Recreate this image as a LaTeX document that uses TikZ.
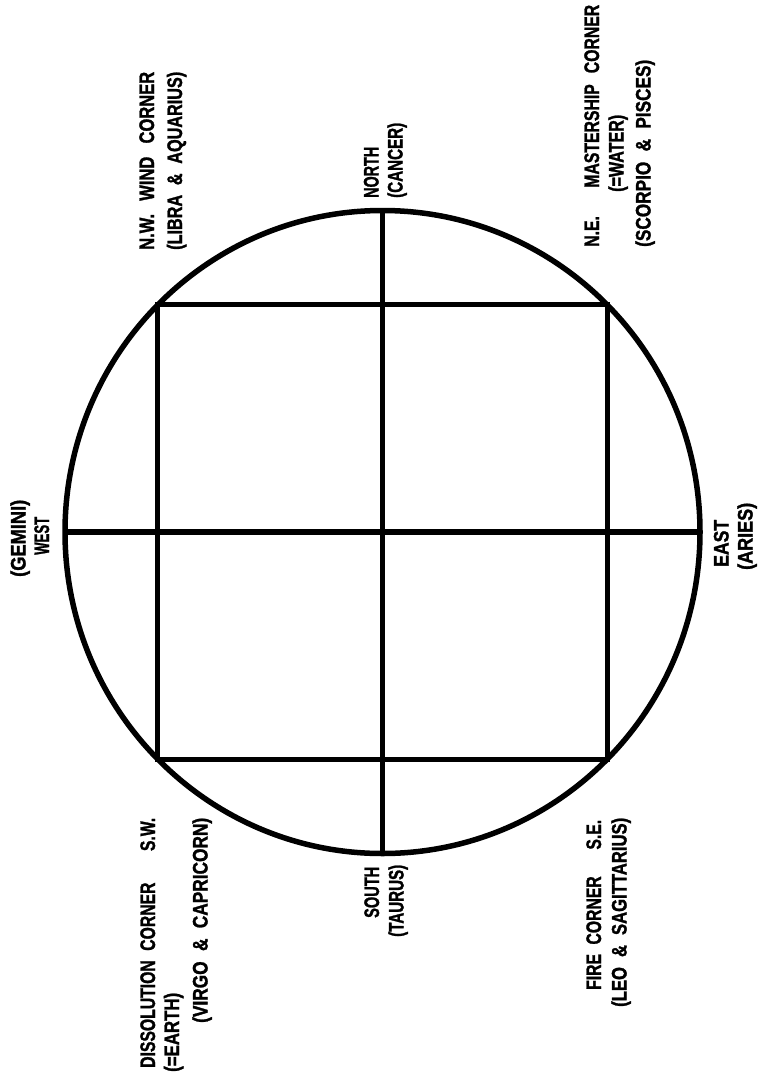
\documentclass[tikz,border=0pt]{standalone}
\usepackage{fontspec}
\usepackage{graphicx}
\newfontfamily\lblfamily{Liberation Sans}[BoldFeatures={FakeBold=1.6}]
\newcommand{\lbl}[2]{\resizebox{#1pt}{\height}{#2}}
\newcommand{\gap}[1]{\hspace{#1em}}
\begin{document}
\begin{tikzpicture}[x=1pt,y=-1pt,
  lab/.style={rotate=90, anchor=west, inner sep=0pt, text height=15pt, text depth=0pt,
    font=\lblfamily\bfseries\fontsize{21}{24}\selectfont},
  rule/.style={line width=5.5pt}]
\useasboundingbox (0,0) rectangle (759,1081);
\coordinate (C) at (382.5,532);
\coordinate (NW) at (157.5,304.7);
\coordinate (NE) at (607.5,304.7);
\coordinate (SE) at (607.5,759.3);
\coordinate (SW) at (157.5,759.3);
\coordinate (T) at (382.5,210.5);
\coordinate (B) at (382.5,853.5);
\coordinate (L) at (65,532);
\coordinate (R) at (700,532);
\draw[rule] (C) ellipse [x radius=317.5, y radius=321.5];
\draw[rule] (NW) -- (NE) -- (SE) -- (SW) -- cycle;
\draw[rule] (T) -- (B);
\draw[rule] (L) -- (R);

\node[lab] (nw1) at (146.5,250) {\lbl{178}{N.W.\gap{0.8}WIND\gap{0.8}CORNER}};
\node[lab] (nw2) at (174.5,250) {\lbl{178}{(LIBRA\gap{0.6}\&\gap{0.6}AQUARIUS)}};
\node[lab] (n1) at (371,198) {\lbl{51}{NORTH}};
\node[lab] (n2) at (395,198) {\lbl{75}{(CANCER)}};
\node[lab] (ne1) at (591.5,247) {\lbl{242}{N.E.\gap{1.8}MASTERSHIP\gap{0.7}CORNER}};
\node[lab] (ne2) at (616,192) {\lbl{77}{(=WATER)}};
\node[lab] (ne3) at (643,247) {\lbl{187}{(SCORPIO\gap{0.6}\&\gap{0.6}PISCES)}};
\node[lab] (w1) at (18,577) {\lbl{77}{(GEMINI)}};
\node[lab] (w2) at (41.5,555) {\lbl{38}{WEST}};
\node[lab] (e1) at (721,567) {\lbl{47}{EAST}};
\node[lab] (e2) at (745,570) {\lbl{67}{(ARIES)}};
\node[lab] (sw1) at (147.5,1068) {\lbl{250}{DISSOLUTION\gap{0.6}CORNER\gap{2}S.W.}};
\node[lab] (sw2) at (171.5,1072) {\lbl{79}{(=EARTH)}};
\node[lab] (sw3) at (200,1023) {\lbl{205}{(VIRGO\gap{0.6}\&\gap{0.6}CAPRICORN)}};
\node[lab] (s1) at (371.5,918) {\lbl{51}{SOUTH}};
\node[lab] (s2) at (396,937) {\lbl{72}{(TAURUS)}};
\node[lab] (se1) at (593.5,990) {\lbl{170}{FIRE\gap{0.6}CORNER\gap{1.7}S.E.}};
\node[lab] (se2) at (619,1007) {\lbl{189}{(LEO\gap{0.6}\&\gap{0.6}SAGITTARIUS)}};
\end{tikzpicture}
\end{document}
